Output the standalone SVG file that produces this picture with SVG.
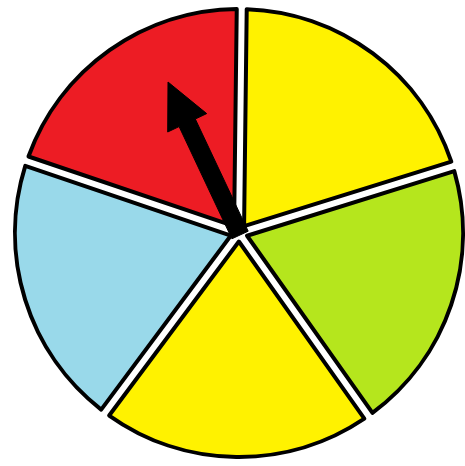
<svg xmlns="http://www.w3.org/2000/svg" xmlns:xlink="http://www.w3.org/1999/xlink" width="465" height="466" viewBox="0 0 465 466">
<defs>
<style>
.sec{stroke:#000;stroke-width:4;stroke-linejoin:round}
.red{fill:#ED1C24}.yel{fill:#FFF200}.grn{fill:#B5E61D}.blu{fill:#99D9EA}
</style>
<path id="sector" d="M0,-8.51 L-127.6,-184.1 A224,224 0 0 1 127.6,-184.1 Z"/>
</defs>
<rect width="465" height="466" fill="#fff"/>
<g id="sector-yellow-top"><use xlink:href="#sector" href="#sector" class="sec yel" transform="translate(239,233) rotate(36.7)"/></g>
<g id="sector-green"><use xlink:href="#sector" href="#sector" class="sec grn" transform="translate(239,233) rotate(108.7)"/></g>
<g id="sector-yellow-bottom"><use xlink:href="#sector" href="#sector" class="sec yel" transform="translate(239,233) rotate(180.7)"/></g>
<g id="sector-blue"><use xlink:href="#sector" href="#sector" class="sec blu" transform="translate(239,233) rotate(252.7)"/></g>
<g id="sector-red"><use xlink:href="#sector" href="#sector" class="sec red" transform="translate(239,233) rotate(324.7)"/></g>
<g id="pointer">
<polygon points="248.2,231.2 195.3,119 206.7,113.6 168,82 167.7,132 179.1,126.6 231.9,238.8" fill="#000" stroke="#000" stroke-width="1" stroke-linejoin="round"/>
</g>
</svg>
